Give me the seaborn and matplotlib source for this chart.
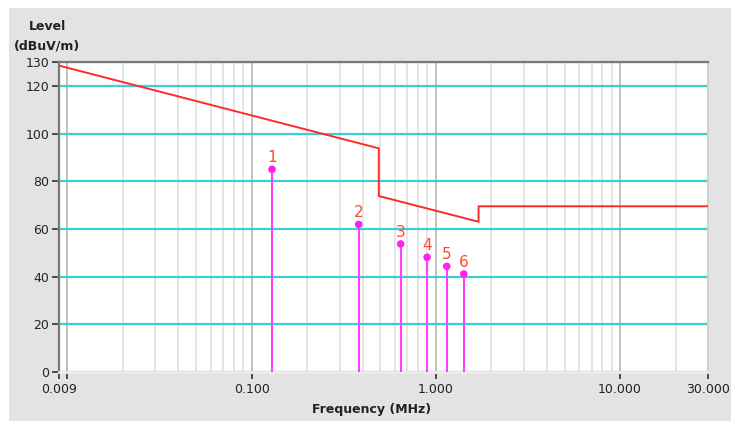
import matplotlib
matplotlib.use("Agg")
from matplotlib import pyplot as plt
from matplotlib.patches import Rectangle
from matplotlib.ticker import LogLocator, NullFormatter
import pandas as pd
import seaborn as sns

# limit line (break points)
limit_freq = [0.009, 0.49, 0.49, 1.705, 1.705, 30.0]
limit_level = [128.5, 93.8, 73.8, 63.0, 69.5, 69.5]

# measured peaks
peak_no = ["1", "2", "3", "4", "5", "6"]
peak_freq = [0.129, 0.381, 0.644, 0.896, 1.146, 1.417]
peak_level = [85.0, 61.9, 53.7, 48.1, 44.3, 41.1]

x_ticks = [0.009, 0.01, 0.1, 1, 10, 30]
x_labels = ["0.009", "", "0.100", "1.000", "10.000", "30.000"]
y_ticks = [0, 20, 40, 60, 80, 100, 120, 130]

limit = pd.DataFrame({"Frequency": limit_freq, "Level": limit_level})
peaks = pd.DataFrame({"Frequency": peak_freq, "Level": peak_level, "No": peak_no})

sns.set_style("white")
plt.rcParams["font.family"] = ["DejaVu Sans"]

fig = plt.figure(figsize=(7.31, 4.21), dpi=100)
fig.patches.append(Rectangle((9 / 731, 0), 1, 413 / 421, transform=fig.transFigure,
                             facecolor="#e3e3e3", edgecolor="none", zorder=-10))
ax = fig.add_axes([59 / 731, 1 - 372 / 421, 649 / 731, 310 / 421])
ax.set_facecolor("white")

ax.set_xscale("log")
ax.set_xlim(0.009, 30)
ax.set_ylim(0, 130)

# grid
ax.xaxis.set_minor_locator(LogLocator(base=10, subs=[2, 3, 4, 5, 6, 7, 8, 9], numticks=20))
ax.xaxis.set_minor_formatter(NullFormatter())
ax.grid(True, which="minor", axis="x", color="#e0e0e0", lw=1.2, zorder=0)
ax.grid(True, which="major", axis="x", color="#bdbdbd", lw=1.3, zorder=0)
ax.grid(True, which="major", axis="y", color="#3ccfcf", lw=1.6, zorder=0)

sns.lineplot(data=limit, x="Frequency", y="Level", sort=False, estimator=None,
             color="#ff2a2a", lw=1.4, ax=ax, zorder=3)

ax.vlines(peaks["Frequency"], 0, peaks["Level"], color="#ff40ff", lw=1.5, zorder=4)
sns.scatterplot(data=peaks, x="Frequency", y="Level", color="#ff22ee", s=30,
                edgecolor="none", ax=ax, zorder=5)
for _, r in peaks.iterrows():
    ax.annotate(r["No"], (r["Frequency"], r["Level"]), xytext=(0, 3),
                textcoords="offset points", ha="center", va="bottom",
                color="#ff4a2a", fontsize=11)

ax.set_xticks(x_ticks)
ax.set_xticklabels(x_labels)
ax.set_yticks(y_ticks)
ax.tick_params(axis="both", which="major", direction="out", length=5, width=1.2,
               color="#333333", labelsize=9, labelcolor="#222222", pad=2,
               bottom=True, left=True)
ax.tick_params(axis="x", which="major", pad=3)
ax.tick_params(axis="x", which="minor", length=0)
ax.set_xlabel("")
ax.set_ylabel("")

for side in ["top", "left"]:
    ax.spines[side].set_color("#7a7a7a")
    ax.spines[side].set_linewidth(1.6)
ax.spines["right"].set_color("#d0d0d0")
ax.spines["right"].set_linewidth(1.2)
ax.spines["bottom"].set_color("#eeeeee")
ax.spines["bottom"].set_linewidth(2)

fig.text(47 / 731, 1 - 27 / 421, "Level", ha="center", va="center",
         fontsize=9, fontweight="bold", color="#222222")
fig.text(47 / 731, 1 - 46 / 421, "(dBuV/m)", ha="center", va="center",
         fontsize=9, fontweight="bold", color="#222222")
fig.text(372 / 731, 1 - 409 / 421, "Frequency (MHz)", ha="center", va="center",
         fontsize=9, fontweight="bold", color="#222222")

plt.savefig("out.png", dpi=100)
